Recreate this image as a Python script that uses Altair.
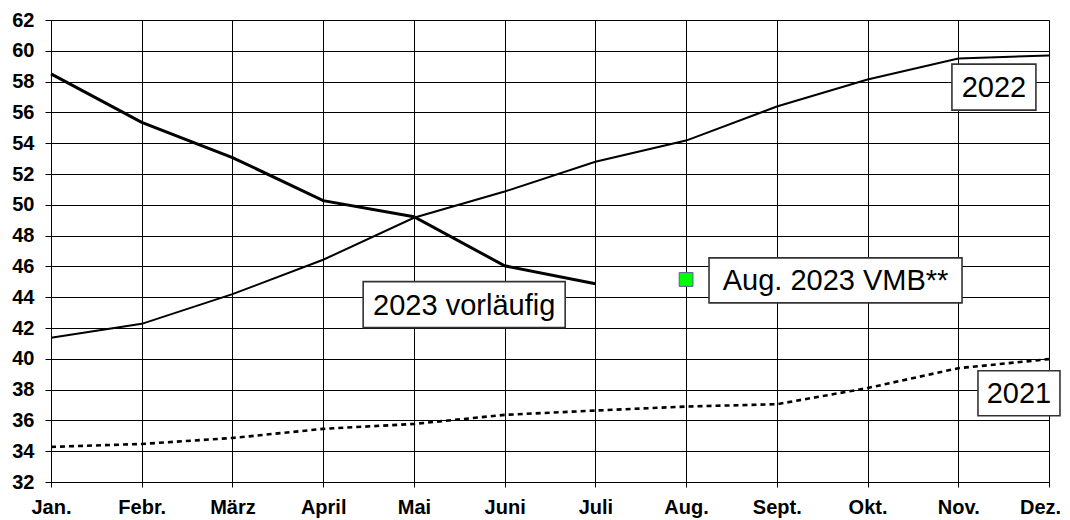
import altair as alt
import pandas as pd

months = ["Jan.", "Febr.", "März", "April", "Mai", "Juni", "Juli", "Aug.", "Sept.", "Okt.", "Nov.", "Dez."]
y2023 = [58.5, 55.35, 53.07, 50.27, 49.23, 46.04, 44.87]
y2022 = [41.36, 42.27, 44.2, 46.43, 49.16, 50.86, 52.8, 54.17, 56.38, 58.14, 59.5, 59.7]
y2021 = [34.28, 34.47, 34.86, 35.45, 35.77, 36.36, 36.64, 36.9, 37.05, 38.1, 39.39, 39.98]
vmb_month = 7
vmb_value = 45.15
y_ticks = list(range(32, 63, 2))

ann_text = ["2023 vorläufig", "Aug. 2023 VMB**", "2022", "2021"]
ann_x = [4.554, 8.647, 10.393, 10.669]
ann_y = [43.52, 45.09, 57.64, 37.76]
box_w = [202, 253, 84, 82]
box_h = [46, 45, 46, 45]

FONT = "Liberation Sans"

xscale = alt.Scale(domain=[0, 11], nice=False, zero=False)
yscale = alt.Scale(domain=[32, 62], nice=False, zero=False)

label_expr = "[" + ",".join("'" + m + "'" for m in months) + "][datum.value]"

xaxis = alt.Axis(values=list(range(12)), labelExpr=label_expr, grid=True, gridColor="#000",
                 gridWidth=1, tickSize=5, tickColor="#000", domainColor="#000",
                 labelFont=FONT, labelFontWeight="bold", labelFontSize=20, labelColor="#000",
                 labelPadding=10, title=None, labelFlush=False, labelOverlap=False,
                 labelOffset=alt.ExprRef(expr="datum.value == 11 ? -9 : 0"))
yaxis = alt.Axis(values=y_ticks, grid=True, gridColor="#000", gridWidth=1, tickSize=6,
                 tickColor="#000", domainColor="#000", labelFont=FONT, labelFontWeight="bold",
                 labelFontSize=20, labelColor="#000", labelPadding=11, title=None,
                 labelOverlap=False, labelFlush=False)

X = alt.X("m:Q", scale=xscale, axis=xaxis)
Y = alt.Y("v:Q", scale=yscale, axis=yaxis)


def series_df(vals):
    return pd.DataFrame({"m": list(range(len(vals))), "v": vals})


l2021 = alt.Chart(series_df(y2021)).mark_line(color="#000", strokeWidth=2.6, strokeDash=[5, 4]).encode(x=X, y=Y)
l2022 = alt.Chart(series_df(y2022)).mark_line(color="#000", strokeWidth=2).encode(x=X, y=Y)
l2023 = alt.Chart(series_df(y2023)).mark_line(color="#000", strokeWidth=3).encode(x=X, y=Y)

vmb = alt.Chart(pd.DataFrame({"m": [vmb_month], "v": [vmb_value]})).mark_point(
    shape="square", size=190, filled=True, fill="#00ff00", stroke="#5c5c99", strokeWidth=1,
    opacity=1).encode(x=X, y=Y)

layers = [l2021, l2022, l2023, vmb]
for t, ax, ay, w, h in zip(ann_text, ann_x, ann_y, box_w, box_h):
    d = pd.DataFrame({"m": [ax], "v": [ay], "t": [t]})
    box = alt.Chart(d).mark_rect(width=w, height=h, fill="#fff", stroke="#333",
                                 strokeWidth=1.6).encode(x=X, y=Y)
    txt = alt.Chart(d).mark_text(font=FONT, fontSize=29, color="#000", align="center",
                                 baseline="middle", dy=1).encode(x=X, y=Y, text="t:N")
    layers += [box, txt]

chart = alt.layer(*layers).properties(
    width=998, height=462,
    autosize=alt.AutoSizeParams(type="none"),
    padding={"left": 43, "top": 12, "right": 13, "bottom": 38},
).configure_view(stroke="#000", strokeWidth=1).configure(background="#fff")

chart.save("out.html", embed_options={"renderer": "svg", "actions": False})
